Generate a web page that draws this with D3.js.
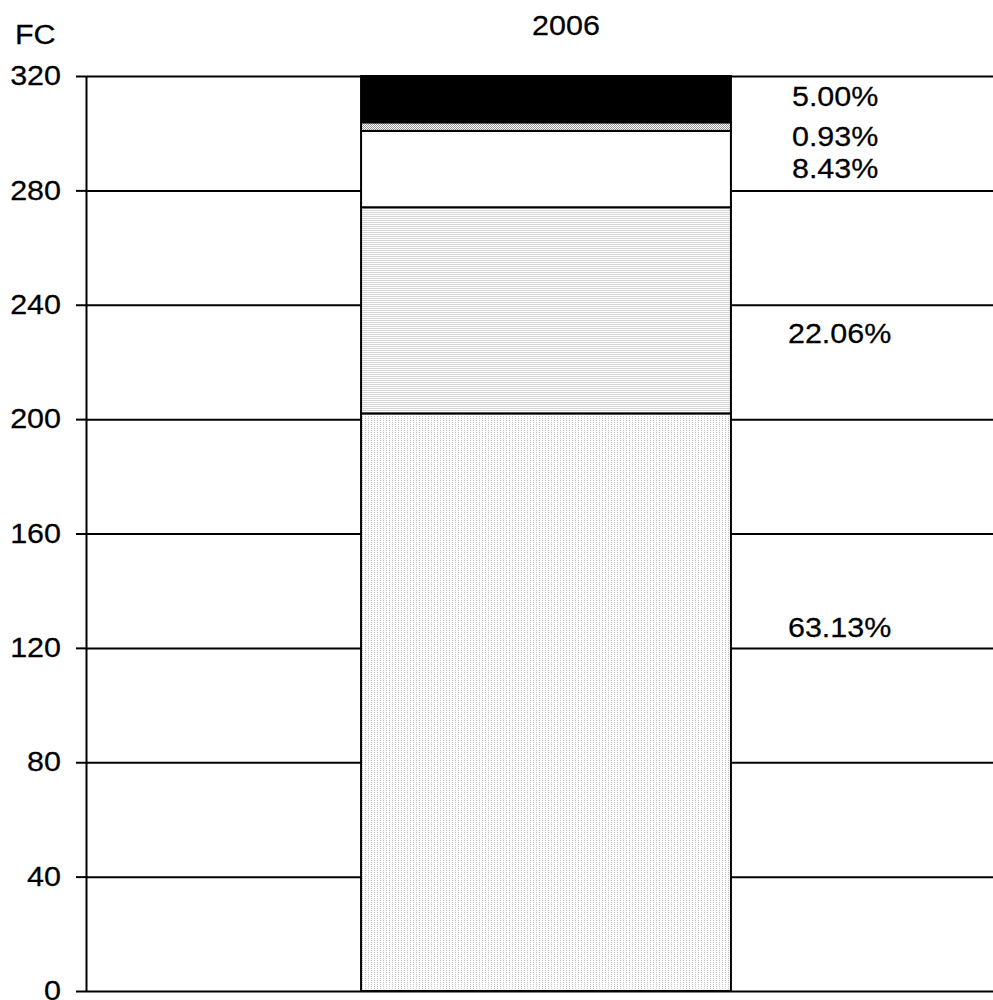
<!DOCTYPE html>
<html>
<head>
<meta charset="utf-8">
<script src="https://cdn.jsdelivr.net/npm/d3@7"></script>
<style>
  body { margin: 0; background: #fff; }
  svg { display: block; }
  text { font-family: "Liberation Sans", Arial, sans-serif; fill: #000; stroke: #000; stroke-width: 0.25px; }
</style>
</head>
<body>
<svg id="chart" width="993" height="1000"></svg>
<script>
// categories and series values (FC, stacked)
var categories = ["2006"];
var seriesKeys = ["s1", "s2", "s3", "s4", "s5"];
var seriesValues = [202.0, 72.1, 26.7, 3.0, 16.2];
var shareLabels = ["63.13%", "22.06%", "8.43%", "0.93%", "5.00%"];
// where each share label sits, in FC units
var labelAt = [127, 230, 287.6, 298.8, 312.7];
var yTicks = [0, 40, 80, 120, 160, 200, 240, 280, 320];
var yLabel = "FC";

var FONT_SIZE = 27;
var STRETCH = 1.13;   // text looks a bit wider than plain Arial

var svg = d3.select("#chart");

var margin = { left: 86, top: 76, right: -13, bottom: 9 };
var width = 993 - margin.left - margin.right;
var height = 1000 - margin.top - margin.bottom;

// ##### patterns #####
var defs = svg.append("defs");

var dots = defs.append("pattern").attr("id", "pDots")
  .attr("patternUnits", "userSpaceOnUse").attr("width", 3).attr("height", 2);
dots.append("rect").attr("width", 3).attr("height", 2).attr("fill", "#fff");
dots.append("rect").attr("width", 1).attr("height", 1).attr("fill", "#c4c4c4");

var lines = defs.append("pattern").attr("id", "pLines")
  .attr("patternUnits", "userSpaceOnUse").attr("width", 4).attr("height", 2);
lines.append("rect").attr("width", 4).attr("height", 2).attr("fill", "#fff");
lines.append("rect").attr("width", 4).attr("height", 1).attr("fill", "#d6d6d6");

var checker = defs.append("pattern").attr("id", "pChecker")
  .attr("patternUnits", "userSpaceOnUse").attr("width", 2).attr("height", 2);
checker.append("rect").attr("width", 2).attr("height", 2).attr("fill", "#fff");
checker.append("rect").attr("width", 1).attr("height", 1).attr("fill", "#9a9a9a");
checker.append("rect").attr("x", 1).attr("y", 1).attr("width", 1).attr("height", 1).attr("fill", "#9a9a9a");

var fills = ["url(#pDots)", "url(#pLines)", "#ffffff", "url(#pChecker)", "#000000"];

// ##### scales #####
var x = d3.scaleBand()
  .domain(categories)
  .range([0, width])
  .padding(0.4265);

var y = d3.scaleLinear()
  .domain([0, 320])
  .range([height, 0]);

var g = svg.append("g")
  .attr("transform", "translate(" + margin.left + "," + margin.top + ")");

// stretch text horizontally around its own anchor
function stretch(sel) {
  sel.each(function () {
    var t = d3.select(this);
    var tx = +t.attr("x") || 0;
    t.attr("x", tx / STRETCH).attr("transform", "scale(" + STRETCH + ",1)");
  });
}

// ##### gridlines #####
var grid = g.append("g")
  .call(d3.axisLeft(y).tickValues(yTicks).tickSize(-width).tickFormat(""));
grid.select(".domain").remove();
grid.selectAll("line").attr("stroke", "#000").attr("stroke-width", 2);

// ##### y axis #####
var yAxis = g.append("g")
  .call(d3.axisLeft(y).tickValues(yTicks).tickSize(10).tickPadding(15).tickSizeOuter(0));
yAxis.select(".domain").attr("stroke", "#000").attr("stroke-width", 2);
yAxis.selectAll("line").attr("stroke", "#000").attr("stroke-width", 2);
yAxis.selectAll("text")
  .attr("font-size", FONT_SIZE)
  .attr("font-family", "Liberation Sans, Arial, sans-serif")
  .attr("fill", "#000")
  .call(stretch);

// ##### stacked bar #####
var row = { year: categories[0] };
seriesKeys.forEach(function (k, i) { row[k] = seriesValues[i]; });
var stacked = d3.stack().keys(seriesKeys)([row]);

g.selectAll(".seg")
  .data(stacked)
  .enter()
  .append("rect")
  .attr("class", "seg")
  .attr("x", function (d) { return x(d[0].data.year); })
  .attr("width", x.bandwidth())
  .attr("y", function (d) { return y(d[0][1]); })
  .attr("height", function (d) { return y(d[0][0]) - y(d[0][1]); })
  .attr("fill", function (d, i) { return fills[i]; })
  .attr("stroke", "#000")
  .attr("stroke-width", 2);

// ##### share labels #####
g.selectAll(".share")
  .data(shareLabels)
  .enter()
  .append("text")
  .attr("class", "share")
  .attr("x", function (d, i) { return x(categories[0]) + x.bandwidth() + (i < 2 ? 57 : 61); })
  .attr("y", function (d, i) { return y(labelAt[i]); })
  .attr("dy", "0.35em")
  .attr("font-size", FONT_SIZE)
  .text(function (d) { return d; })
  .call(stretch);

// ##### titles #####
svg.append("text")
  .attr("x", margin.left + x(categories[0]) + x.bandwidth() / 2 + 20)
  .attr("y", 26)
  .attr("dy", "0.35em")
  .attr("text-anchor", "middle")
  .attr("font-size", FONT_SIZE)
  .text(categories[0])
  .call(stretch);

svg.append("text")
  .attr("x", 15)
  .attr("y", 35)
  .attr("dy", "0.35em")
  .attr("font-size", FONT_SIZE)
  .text(yLabel)
  .call(stretch);
</script>
</body>
</html>
